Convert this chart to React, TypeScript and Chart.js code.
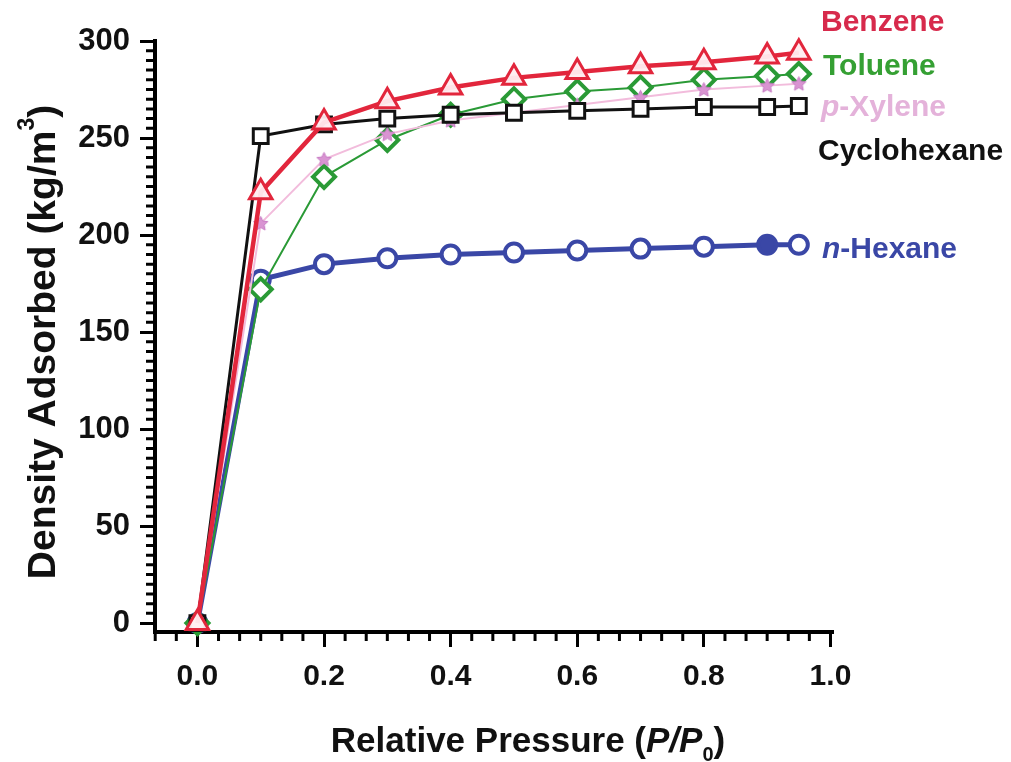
import React, { useEffect, useRef } from 'react';
import { Chart, registerables } from 'chart.js';

Chart.register(...registerables);

// ---- data ----
const pressure = [0, 0.1, 0.2, 0.3, 0.4, 0.5, 0.6, 0.7, 0.8, 0.9, 0.95];
const benzene = [0, 222, 258, 269, 276, 281, 284, 287, 289, 292, 294];
const toluene = [0, 172, 230, 249, 262, 270, 274, 276, 280, 282, 283];
const pXylene = [0, 206, 239, 252, 259, 263, 267, 271, 275, 277, 278];
const cyclohexane = [0, 251, 257, 260, 262, 263, 264, 265, 266, 266, 266.5];
const nHexane = [0, 177, 185, 188, 190, 191, 192, 193, 194, 195, 195];
const nHexaneFilled = [false, false, false, false, false, false, false, false, false, true, false];

const xTicks = [0, 0.2, 0.4, 0.6, 0.8, 1.0];
const yTicks = [0, 50, 100, 150, 200, 250, 300];

const FONT = "'Liberation Sans', Arial, Helvetica, sans-serif";

const C_RED = '#e2263c';
const C_RED_TXT = '#d72a4c';
const C_GREEN = '#2a9a36';
const C_GREEN_TXT = '#35a033';
const C_PINK_LINE = '#f2bcdc';
const C_PINK_STAR = '#d994d2';
const C_PINK_TXT = '#e4b2da';
const C_BLACK = '#111111';
const C_BLUE = '#3a47a6';

function makeStar(fill: string, stroke: string, size: number): HTMLCanvasElement {
  const c = document.createElement('canvas');
  c.width = size;
  c.height = size;
  const ctx = c.getContext('2d')!;
  const cx = size / 2;
  const cy = size / 2 + 0.5;
  const R = size / 2 - 1;
  const r = R * 0.48;
  ctx.beginPath();
  for (let i = 0; i < 10; i++) {
    const a = -Math.PI / 2 + (i * Math.PI) / 5;
    const rad = i % 2 === 0 ? R : r;
    ctx.lineTo(cx + rad * Math.cos(a), cy + rad * Math.sin(a));
  }
  ctx.closePath();
  ctx.fillStyle = fill;
  ctx.fill();
  ctx.strokeStyle = stroke;
  ctx.lineWidth = 1;
  ctx.stroke();
  return c;
}

type Run = { text: string; font: string; dy?: number; color?: string };

function drawRuns(ctx: CanvasRenderingContext2D, runs: Run[], x: number, y: number, align: 'left' | 'center', color: string) {
  ctx.textAlign = 'left';
  let total = 0;
  for (const r of runs) {
    ctx.font = r.font;
    total += ctx.measureText(r.text).width;
  }
  let cx = align === 'center' ? x - total / 2 : x;
  for (const r of runs) {
    ctx.font = r.font;
    ctx.fillStyle = r.color || color;
    ctx.fillText(r.text, cx, y + (r.dy || 0));
    cx += ctx.measureText(r.text).width;
  }
}

const annotationPlugin = {
  id: 'annotations',
  afterDraw(chart: any) {
    const ctx: CanvasRenderingContext2D = chart.ctx;
    const xs = chart.scales.x;
    const ys = chart.scales.y;
    const area = chart.chartArea;
    ctx.save();
    // minor ticks
    ctx.strokeStyle = '#000';
    ctx.lineWidth = 3;
    ctx.beginPath();
    for (let i = -2; i <= 30; i++) {
      if (i % 6 === 0) continue;
      const v = i / 30;
      if (v < xs.min || v > xs.max) continue;
      const px = xs.getPixelForValue(v);
      ctx.moveTo(px, area.bottom);
      ctx.lineTo(px, area.bottom + 9);
    }
    for (let v = 5; v < 300; v += 5) {
      if (v % 50 === 0) continue;
      const py = ys.getPixelForValue(v);
      ctx.moveTo(area.left, py);
      ctx.lineTo(area.left - 9, py);
    }
    ctx.stroke();

    const bold = (s: number) => `bold ${s}px ${FONT}`;
    const boldIt = (s: number) => `italic bold ${s}px ${FONT}`;
    ctx.textBaseline = 'middle';

    // series labels
    drawRuns(ctx, [{ text: 'Benzene', font: bold(30) }], 821, 23, 'left', C_RED_TXT);
    drawRuns(ctx, [{ text: 'Toluene', font: bold(30) }], 823, 67, 'left', C_GREEN_TXT);
    drawRuns(ctx, [{ text: 'p', font: boldIt(30) }, { text: '-Xylene', font: bold(30) }], 821, 108, 'left', C_PINK_TXT);
    drawRuns(ctx, [{ text: 'Cyclohexane', font: bold(30) }], 818, 152, 'left', C_BLACK);
    drawRuns(ctx, [{ text: 'n', font: boldIt(30) }, { text: '-Hexane', font: bold(30) }], 822, 250, 'left', C_BLUE);

    // x title
    ctx.textBaseline = 'alphabetic';
    drawRuns(
      ctx,
      [
        { text: 'Relative Pressure (', font: bold(35) },
        { text: 'P', font: boldIt(35) },
        { text: '/', font: boldIt(35) },
        { text: 'P', font: boldIt(35) },
        { text: '0', font: bold(20), dy: 9 },
        { text: ')', font: bold(35) },
      ],
      528,
      752,
      'center',
      '#111'
    );

    // y title
    ctx.translate(44, 342);
    ctx.rotate(-Math.PI / 2);
    ctx.textBaseline = 'middle';
    drawRuns(
      ctx,
      [
        { text: 'Density Adsorbed (kg/m', font: bold(39) },
        { text: '3', font: bold(23), dy: -16 },
        { text: ')', font: bold(39) },
      ],
      0,
      0,
      'center',
      '#111'
    );
    ctx.restore();
  },
};

export default function App() {
  const ref = useRef<HTMLCanvasElement | null>(null);

  useEffect(() => {
    document.body.style.margin = '0';
    const canvas = ref.current!;
    const star = makeStar(C_PINK_STAR, '#c77cc4', 17);

    const toXY = (ys: number[]) => ys.map((y, i) => ({ x: pressure[i], y }));

    const chart = new Chart(canvas, {
      type: 'line',
      data: {
        datasets: [
          {
            label: 'Benzene',
            data: toXY(benzene),
            borderColor: C_RED,
            borderWidth: 4.5,
            pointStyle: 'triangle',
            pointRadius: 13,
            pointBorderWidth: 3,
            pointBorderColor: C_RED,
            pointBackgroundColor: 'rgba(255,236,240,0.95)',
            clip: false,
          },
          {
            label: 'Cyclohexane',
            data: toXY(cyclohexane),
            borderColor: C_BLACK,
            borderWidth: 3,
            pointStyle: 'rect',
            pointRadius: 10.5,
            pointBorderWidth: 3,
            pointBorderColor: C_BLACK,
            pointBackgroundColor: '#ffffff',
            clip: false,
          },
          {
            label: 'p-Xylene',
            data: toXY(pXylene),
            borderColor: C_PINK_LINE,
            borderWidth: 2,
            pointStyle: star as any,
            pointRadius: 8,
            clip: false,
          },
          {
            label: 'Toluene',
            data: toXY(toluene),
            borderColor: C_GREEN,
            borderWidth: 2,
            pointStyle: 'rectRot',
            pointRadius: 11,
            pointBorderWidth: 4,
            pointBorderColor: C_GREEN,
            pointBackgroundColor: '#ffffff',
            clip: false,
          },
          {
            label: 'n-Hexane',
            data: toXY(nHexane),
            borderColor: C_BLUE,
            borderWidth: 5,
            pointStyle: 'circle',
            pointRadius: 9,
            pointBorderWidth: 4,
            pointBorderColor: C_BLUE,
            pointBackgroundColor: nHexaneFilled.map((f) => (f ? C_BLUE : '#ffffff')),
            clip: false,
          },
        ],
      },
      options: {
        animation: false,
        responsive: false,
        maintainAspectRatio: false,
        devicePixelRatio: 1,
        layout: { padding: { top: 41, right: 178, left: 0, bottom: 0 } },
        plugins: {
          legend: { display: false },
          tooltip: { enabled: false },
          title: { display: false },
        },
        scales: {
          x: {
            type: 'linear',
            min: -0.067,
            max: 1.004,
            afterBuildTicks: (scale: any) => {
              scale.ticks = xTicks.map((v) => ({ value: v }));
            },
            afterFit: (scale: any) => {
              scale.height = 130;
            },
            ticks: {
              autoSkip: false,
              maxRotation: 0,
              padding: 12,
              color: '#111',
              font: { family: FONT, size: 30, weight: 'bold' },
              callback: (v: any) => Number(v).toFixed(1),
            },
            grid: {
              drawOnChartArea: false,
              drawTicks: true,
              tickLength: 15,
              tickWidth: 3,
              tickColor: '#000',
            },
            border: { display: true, color: '#000', width: 4 },
          },
          y: {
            type: 'linear',
            min: -4.6,
            max: 300,
            afterBuildTicks: (scale: any) => {
              scale.ticks = yTicks.map((v) => ({ value: v }));
            },
            afterFit: (scale: any) => {
              scale.width = 155;
            },
            ticks: {
              autoSkip: false,
              padding: 10,
              color: '#111',
              font: { family: FONT, size: 31, weight: 'bold' },
              callback: (v: any) => String(Math.round(Number(v))),
            },
            grid: {
              drawOnChartArea: false,
              drawTicks: true,
              tickLength: 15,
              tickWidth: 3,
              tickColor: '#000',
            },
            border: { display: true, color: '#000', width: 4 },
          },
        },
      },
      plugins: [annotationPlugin],
    } as any);

    return () => {
      chart.destroy();
    };
  }, []);

  return (
    <div style={{ position: 'absolute', left: 0, top: 0, width: 1011, height: 762, background: '#fff' }}>
      <canvas ref={ref} width={1011} height={762} style={{ display: 'block', width: 1011, height: 762 }} />
    </div>
  );
}
